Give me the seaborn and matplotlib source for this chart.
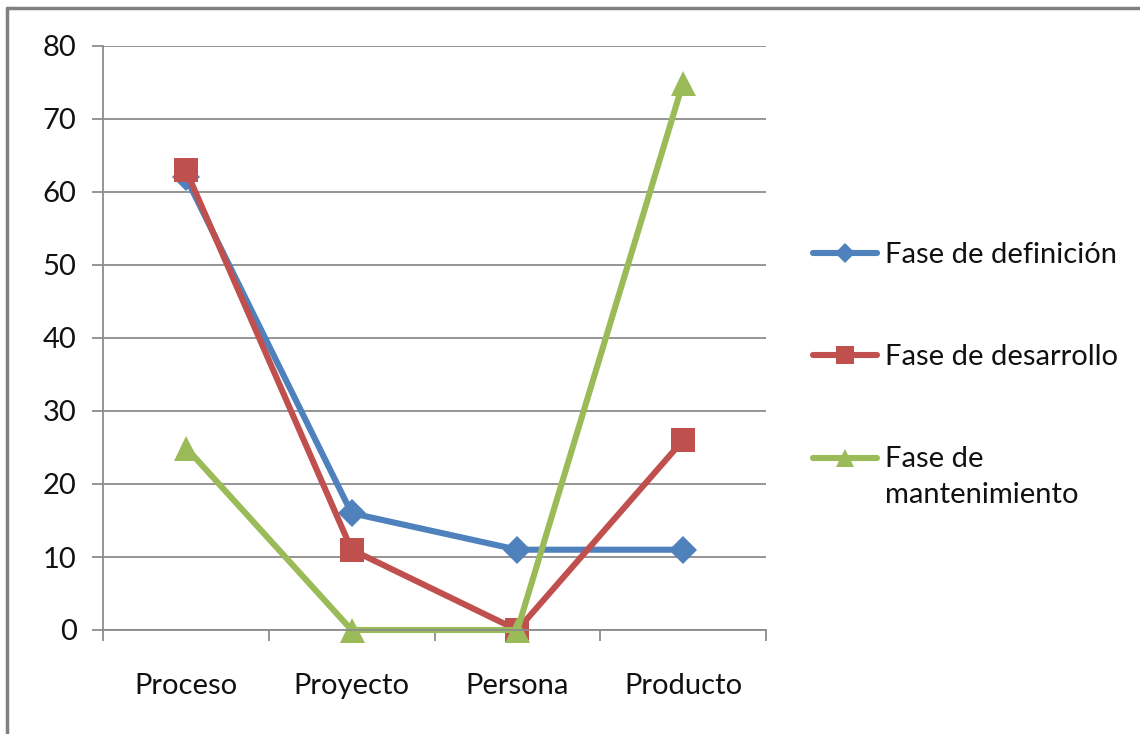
import matplotlib
matplotlib.use("Agg")
import matplotlib.pyplot as plt
from matplotlib.lines import Line2D
from matplotlib.legend_handler import HandlerLine2D
import numpy as np
import pandas as pd
import seaborn as sns

categories = ["Proceso", "Proyecto", "Persona", "Producto"]
definicion = [62, 16, 11, 11]
desarrollo = [63, 11, 0, 26]
mantenimiento = [25, 0, 0, 75]
series_names = ["Fase de definición", "Fase de desarrollo", "Fase de\nmantenimiento"]
colors = ["#4F81BD", "#C0504D", "#9BBB59"]
markers = ["D", "s", "^"]
marker_sizes = [14, 17, 18]
y_ticks = [0, 10, 20, 30, 40, 50, 60, 70, 80]

FS = 21
LINE_STEP = 1.5


class TopLineHandler(HandlerLine2D):
    """Line handle aligned with the first line of a two-line label."""

    def __init__(self, shift, **kw):
        super().__init__(**kw)
        self.shift = shift

    def create_artists(self, legend, orig_handle, xdescent, ydescent, width,
                       height, fontsize, trans):
        arts = super().create_artists(legend, orig_handle, xdescent, ydescent,
                                      width, height, fontsize, trans)
        for a in arts:
            a.set_ydata(np.asarray(a.get_ydata()) + self.shift)
        return arts


sns.set_theme(style="white")
plt.rcParams["font.family"] = ["Lato", "DejaVu Sans"]

fig = plt.figure(figsize=(11.4, 7.34), dpi=100)
ax = fig.add_axes([103 / 1140, 104 / 734, 663 / 1140, 584 / 734])

x_pos = np.arange(len(categories))
handles = []
for name, vals, c, m, ms in zip(series_names, [definicion, desarrollo, mantenimiento],
                                colors, markers, marker_sizes):
    df = pd.DataFrame({"x": x_pos, "y": vals})
    sns.lineplot(data=df, x="x", y="y", ax=ax, color=c, linewidth=4.4,
                 marker=m, markersize=ms, markeredgewidth=0, clip_on=False,
                 legend=False)
    handles.append(Line2D([], [], color=c, linewidth=4.4, marker=m,
                          markersize=ms * 0.75, markeredgewidth=0,
                          solid_capstyle="round"))

ax.set_xlim(-0.5, len(categories) - 0.5)
ax.set_ylim(0, 80)
ax.set_yticks(y_ticks)
ax.set_yticklabels([str(v) for v in y_ticks])
ax.yaxis.grid(True, color="#8c8c8c", linewidth=1.3)
ax.set_axisbelow(True)

# category boundaries carry tick marks; names sit centred between them
ax.set_xticks(np.arange(-0.5, len(categories), 1.0))
ax.set_xticklabels([""] * (len(categories) + 1))
ax.set_xticks(x_pos, minor=True)
ax.set_xticklabels(categories, minor=True)
ax.tick_params(axis="x", which="major", bottom=True, length=8, width=1.3,
               color="#8c8c8c", direction="out")
ax.tick_params(axis="x", which="minor", bottom=False, length=0, pad=31,
               labelsize=FS, labelcolor="#111111")
ax.tick_params(axis="y", left=True, length=8, width=1.3, color="#8c8c8c",
               direction="out", pad=11, labelsize=FS, labelcolor="#111111")
ax.set_xlabel("")
ax.set_ylabel("")

for side in ["top", "right"]:
    ax.spines[side].set_visible(False)
for side in ["left", "bottom"]:
    ax.spines[side].set_color("#8c8c8c")
    ax.spines[side].set_linewidth(1.3)

step_pt = LINE_STEP * FS * 0.88
leg = ax.legend(handles, series_names, loc="upper left",
                bbox_to_anchor=(787 / 1140, 1 - 216 / 734),
                bbox_transform=fig.transFigure, frameon=False,
                fontsize=FS, handlelength=2.2, handletextpad=0.25,
                labelspacing=2.6, labelcolor="#111111",
                handler_map={handles[2]: TopLineHandler(step_pt / 2)})
leg.get_texts()[2].set_linespacing(LINE_STEP)

# outer frame along the top and left edges
fig.add_artist(Line2D([7 / 1140, 1], [1 - 8 / 734, 1 - 8 / 734],
                      transform=fig.transFigure, color="#808080", linewidth=2.5))
fig.add_artist(Line2D([7 / 1140, 7 / 1140], [0, 1 - 8 / 734],
                      transform=fig.transFigure, color="#808080", linewidth=2.5))

fig.savefig("out.png", dpi=100, facecolor="white")
